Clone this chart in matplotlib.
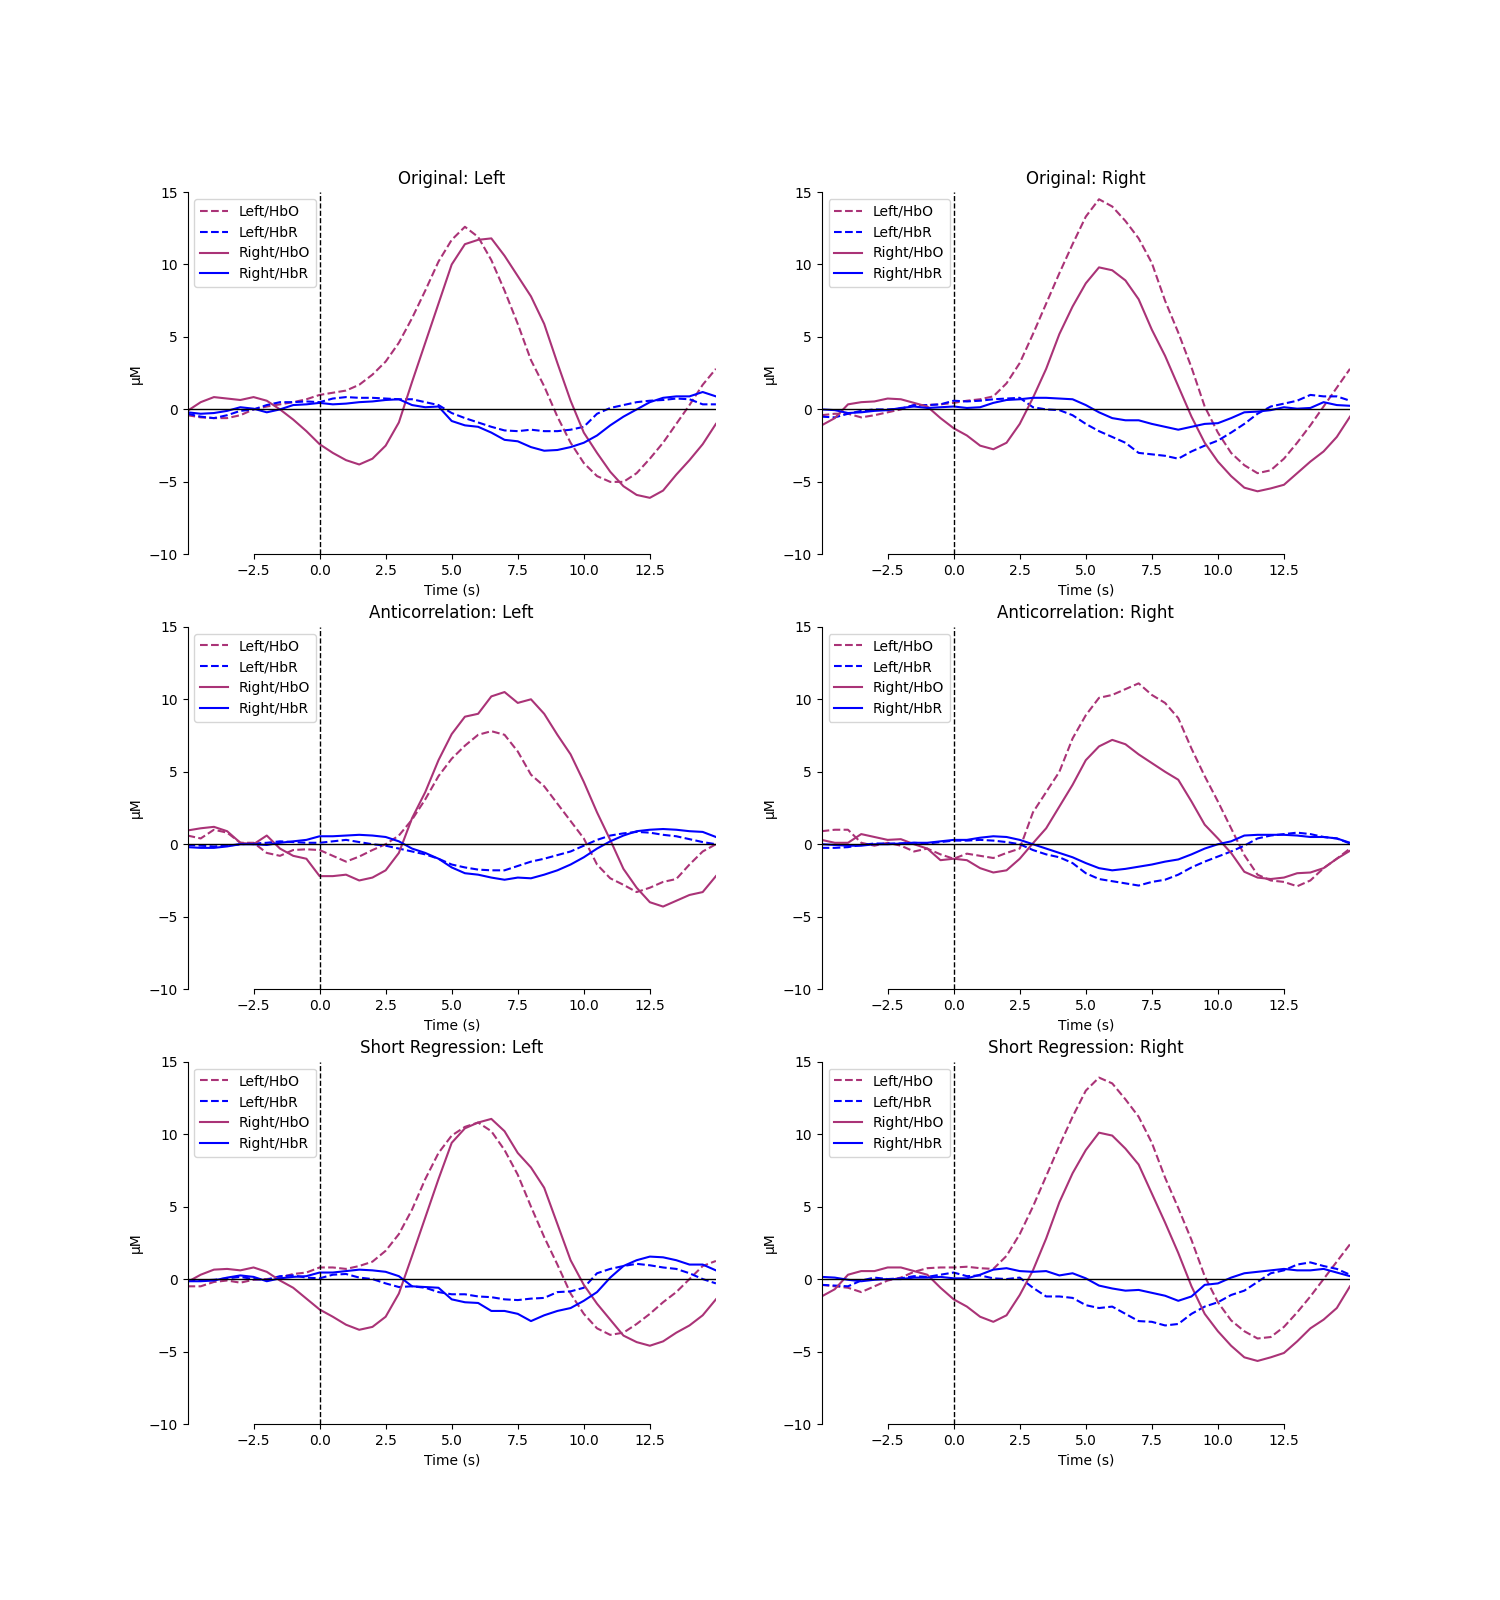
import numpy as np
import matplotlib
matplotlib.use("Agg")
import matplotlib.pyplot as plt

# time axis, seconds (-5 .. 15 in 0.5 s steps)
times = np.arange(-5, 15.01, 0.5)

HBO_COLOR = "#AA3377"
HBR_COLOR = "b"

# ---- Original ----
orig_l_left_hbo = [-0.4, -0.55, -0.6, -0.6, -0.4, 0.0, 0.2, 0.35, 0.5, 0.7,
                   1.0, 1.15, 1.3, 1.7, 2.4, 3.3, 4.6, 6.3, 8.2, 10.2,
                   11.7, 12.6, 11.9, 10.3, 8.2, 5.9, 3.4, 1.6, -0.5, -2.3,
                   -3.7, -4.6, -5.0, -5.0, -4.4, -3.4, -2.3, -1.0, 0.3, 1.7,
                   2.8]
orig_l_left_hbr = [-0.3, -0.5, -0.6, -0.4, -0.1, 0.0, 0.3, 0.5, 0.5, 0.55,
                   0.5, 0.75, 0.85, 0.8, 0.8, 0.75, 0.7, 0.7, 0.5, 0.3,
                   -0.25, -0.6, -0.9, -1.2, -1.45, -1.5, -1.4, -1.5, -1.5, -1.4,
                   -1.2, -0.3, 0.1, 0.3, 0.5, 0.6, 0.65, 0.75, 0.7, 0.35,
                   0.35]
orig_l_right_hbo = [-0.1, 0.5, 0.85, 0.75, 0.65, 0.85, 0.6, 0.0, -0.7, -1.5,
                    -2.4, -3.0, -3.5, -3.8, -3.4, -2.5, -0.9, 1.9, 4.6, 7.3,
                    10.0, 11.4, 11.7, 11.8, 10.6, 9.2, 7.8, 5.9, 3.2, 0.6,
                    -1.6, -3.0, -4.3, -5.3, -5.9, -6.1, -5.6, -4.5, -3.5, -2.4,
                    -1.0]
orig_l_right_hbr = [-0.2, -0.3, -0.25, -0.1, 0.15, 0.05, -0.2, 0.0, 0.3, 0.35,
                    0.45, 0.35, 0.4, 0.5, 0.55, 0.65, 0.7, 0.3, 0.15, 0.2,
                    -0.8, -1.1, -1.2, -1.6, -2.1, -2.2, -2.6, -2.85, -2.8, -2.6,
                    -2.3, -1.8, -1.1, -0.5, 0.0, 0.5, 0.8, 0.9, 0.9, 1.2,
                    0.9]

orig_r_left_hbo = [-0.4, -0.3, -0.3, -0.55, -0.4, -0.2, 0.0, 0.3, 0.3, 0.35,
                   0.45, 0.6, 0.7, 0.9, 1.8, 3.2, 5.2, 7.3, 9.4, 11.4,
                   13.3, 14.5, 14.0, 13.0, 11.8, 10.1, 7.5, 5.3, 2.9, 0.2,
                   -1.6, -3.0, -3.85, -4.4, -4.2, -3.4, -2.3, -1.1, 0.2, 1.5,
                   2.8]
orig_r_left_hbr = [-0.5, -0.55, -0.3, -0.1, 0.0, 0.0, 0.05, 0.3, 0.3, 0.35,
                   0.6, 0.55, 0.6, 0.7, 0.75, 0.8, 0.15, 0.0, -0.05, -0.4,
                   -1.0, -1.5, -1.9, -2.3, -3.0, -3.1, -3.2, -3.4, -2.9, -2.5,
                   -2.15, -1.6, -1.0, -0.3, 0.2, 0.4, 0.6, 1.0, 0.9, 0.9,
                   0.6]
orig_r_right_hbo = [-1.1, -0.6, 0.35, 0.5, 0.55, 0.75, 0.7, 0.45, 0.2, -0.6,
                    -1.3, -1.8, -2.5, -2.75, -2.3, -1.0, 0.8, 2.8, 5.2, 7.1,
                    8.7, 9.8, 9.6, 8.9, 7.6, 5.5, 3.7, 1.6, -0.5, -2.3,
                    -3.6, -4.6, -5.4, -5.65, -5.45, -5.2, -4.4, -3.6, -2.9, -1.9,
                    -0.5]
orig_r_right_hbr = [0.0, -0.05, -0.25, -0.2, -0.1, -0.05, 0.1, 0.2, 0.1, 0.15,
                    0.2, 0.1, 0.15, 0.45, 0.65, 0.7, 0.8, 0.8, 0.75, 0.7,
                    0.3, -0.2, -0.6, -0.75, -0.75, -1.0, -1.2, -1.4, -1.2, -1.0,
                    -0.95, -0.6, -0.2, -0.15, -0.05, 0.15, 0.05, 0.1, 0.5, 0.3,
                    0.25]

# ---- Anticorrelation ----
anti_l_left_hbo = [0.6, 0.4, 1.0, 0.8, 0.1, 0.1, -0.6, -0.8, -0.4, -0.35,
                   -0.4, -0.8, -1.2, -0.85, -0.4, 0.0, 0.6, 1.7, 3.1, 4.7,
                   5.9, 6.8, 7.55, 7.8, 7.55, 6.4, 4.8, 4.0, 2.8, 1.6,
                   0.4, -1.4, -2.35, -2.8, -3.3, -3.0, -2.6, -2.4, -1.4, -0.5,
                   0.0]
anti_l_left_hbr = [-0.05, -0.1, -0.15, -0.1, 0.0, 0.05, 0.1, 0.2, 0.15, 0.1,
                   0.1, 0.2, 0.3, 0.15, 0.0, -0.1, -0.3, -0.5, -0.7, -1.0,
                   -1.4, -1.6, -1.75, -1.8, -1.8, -1.5, -1.2, -1.0, -0.75, -0.5,
                   -0.1, 0.3, 0.6, 0.75, 0.85, 0.8, 0.65, 0.55, 0.35, 0.15,
                   0.0]
anti_l_right_hbo = [0.95, 1.1, 1.2, 0.9, 0.1, 0.0, 0.6, -0.3, -0.8, -1.0,
                    -2.2, -2.2, -2.1, -2.5, -2.3, -1.8, -0.6, 1.8, 3.6, 5.8,
                    7.6, 8.8, 9.0, 10.2, 10.5, 9.75, 10.0, 9.0, 7.55, 6.2,
                    4.3, 2.2, 0.3, -1.7, -3.0, -4.0, -4.3, -3.9, -3.5, -3.3,
                    -2.2]
anti_l_right_hbr = [-0.2, -0.25, -0.25, -0.15, 0.0, 0.0, -0.05, 0.1, 0.2, 0.3,
                    0.55, 0.55, 0.6, 0.65, 0.6, 0.5, 0.2, -0.3, -0.6, -1.0,
                    -1.6, -2.0, -2.1, -2.3, -2.45, -2.3, -2.35, -2.1, -1.8, -1.4,
                    -0.9, -0.3, 0.2, 0.6, 0.9, 1.0, 1.05, 1.0, 0.9, 0.85,
                    0.5]

anti_r_left_hbo = [0.9, 1.0, 1.0, 0.1, -0.1, 0.1, -0.1, -0.5, -0.3, -0.7,
                   -1.0, -0.65, -0.8, -0.95, -0.6, -0.3, 2.2, 3.6, 5.0, 7.3,
                   8.9, 10.1, 10.3, 10.7, 11.1, 10.3, 9.75, 8.7, 6.6, 4.7,
                   2.95, 1.1, -0.75, -2.1, -2.5, -2.6, -2.9, -2.5, -1.65, -1.0,
                   -0.3]
anti_r_left_hbr = [-0.25, -0.25, -0.2, -0.05, 0.05, 0.05, 0.05, 0.1, 0.05, 0.15,
                   0.25, 0.25, 0.3, 0.25, 0.15, 0.0, -0.4, -0.7, -0.9, -1.3,
                   -2.0, -2.4, -2.55, -2.7, -2.85, -2.6, -2.45, -2.1, -1.6, -1.2,
                   -0.85, -0.5, -0.1, 0.4, 0.6, 0.7, 0.8, 0.7, 0.5, 0.4,
                   0.05]
anti_r_right_hbo = [0.3, 0.1, 0.1, 0.7, 0.5, 0.3, 0.35, 0.0, -0.3, -1.1,
                    -1.0, -1.1, -1.65, -1.95, -1.8, -1.0, 0.07, 1.1, 2.6, 4.1,
                    5.8, 6.75, 7.2, 6.9, 6.2, 5.6, 5.0, 4.45, 2.95, 1.35,
                    0.4, -0.6, -1.9, -2.3, -2.4, -2.3, -2.0, -1.95, -1.65, -1.0,
                    -0.45]
anti_r_right_hbr = [0.0, -0.05, -0.1, -0.1, 0.0, 0.0, 0.05, 0.1, 0.1, 0.2,
                    0.3, 0.3, 0.45, 0.55, 0.5, 0.3, 0.0, -0.3, -0.6, -0.9,
                    -1.3, -1.65, -1.8, -1.7, -1.55, -1.4, -1.2, -1.05, -0.7, -0.3,
                    0.0, 0.2, 0.6, 0.65, 0.65, 0.65, 0.6, 0.5, 0.5, 0.4,
                    0.1]

# ---- Short Regression ----
short_l_left_hbo = [-0.5, -0.5, -0.2, -0.1, -0.25, -0.05, 0.0, 0.1, 0.35, 0.45,
                    0.8, 0.8, 0.7, 0.9, 1.2, 1.95, 3.1, 4.8, 6.9, 8.7,
                    9.9, 10.5, 10.8, 10.2, 8.9, 7.2, 5.0, 2.9, 1.0, -1.0,
                    -2.4, -3.4, -3.85, -3.7, -3.1, -2.4, -1.6, -0.9, 0.0, 0.9,
                    1.25]
short_l_left_hbr = [-0.1, -0.1, -0.05, 0.05, 0.15, 0.0, -0.05, 0.2, 0.25, 0.1,
                    0.05, 0.3, 0.35, 0.1, 0.0, -0.3, -0.55, -0.5, -0.6, -0.9,
                    -1.05, -1.05, -1.2, -1.25, -1.4, -1.45, -1.35, -1.3, -0.9, -0.85,
                    -0.6, 0.4, 0.7, 0.9, 1.05, 0.95, 0.8, 0.7, 0.4, 0.0,
                    -0.3]
short_l_right_hbo = [-0.2, 0.3, 0.65, 0.7, 0.6, 0.8, 0.5, -0.1, -0.6, -1.35,
                     -2.1, -2.6, -3.15, -3.5, -3.3, -2.6, -1.0, 1.6, 4.25, 6.9,
                     9.4, 10.4, 10.8, 11.05, 10.2, 8.7, 7.7, 6.3, 3.8, 1.3,
                     -0.4, -1.7, -2.8, -3.9, -4.35, -4.6, -4.3, -3.7, -3.2, -2.5,
                     -1.4]
short_l_right_hbr = [-0.15, -0.15, -0.1, 0.1, 0.25, 0.15, -0.15, 0.05, 0.15, 0.2,
                     0.45, 0.45, 0.55, 0.65, 0.6, 0.5, 0.2, -0.5, -0.55, -0.6,
                     -1.4, -1.6, -1.65, -2.2, -2.2, -2.4, -2.9, -2.5, -2.2, -2.0,
                     -1.5, -0.9, 0.1, 0.9, 1.3, 1.55, 1.5, 1.3, 1.0, 1.0,
                     0.6]

short_r_left_hbo = [-0.4, -0.5, -0.6, -0.9, -0.5, -0.1, 0.1, 0.5, 0.75, 0.8,
                    0.8, 0.85, 0.75, 0.7, 1.6, 3.1, 5.0, 7.1, 9.2, 11.2,
                    13.0, 13.9, 13.5, 12.4, 11.2, 9.4, 7.0, 4.9, 2.7, 0.2,
                    -1.6, -2.85, -3.6, -4.1, -4.0, -3.3, -2.3, -1.2, 0.0, 1.2,
                    2.4]
short_r_left_hbr = [-0.4, -0.45, -0.5, -0.1, 0.1, 0.0, 0.05, 0.2, 0.15, 0.3,
                    0.45, 0.2, 0.25, 0.05, 0.0, 0.1, -0.6, -1.2, -1.2, -1.3,
                    -1.8, -2.0, -1.9, -2.4, -2.9, -2.95, -3.2, -3.1, -2.4, -1.9,
                    -1.6, -1.1, -0.8, -0.2, 0.4, 0.6, 1.0, 1.15, 0.9, 0.7,
                    0.3]
short_r_right_hbo = [-1.2, -0.7, 0.3, 0.55, 0.55, 0.8, 0.8, 0.55, 0.3, -0.6,
                     -1.4, -1.9, -2.6, -2.95, -2.5, -1.1, 0.6, 2.8, 5.3, 7.3,
                     8.9, 10.1, 9.9, 9.0, 7.9, 5.9, 3.9, 1.8, -0.5, -2.4,
                     -3.6, -4.6, -5.4, -5.65, -5.4, -5.1, -4.3, -3.4, -2.8, -2.0,
                     -0.5]
short_r_right_hbr = [0.15, 0.1, -0.05, -0.15, -0.05, 0.0, 0.0, 0.1, 0.1, 0.15,
                     0.05, 0.05, 0.3, 0.65, 0.75, 0.55, 0.5, 0.55, 0.25, 0.4,
                     0.05, -0.45, -0.65, -0.8, -0.75, -0.95, -1.15, -1.5, -1.2, -0.4,
                     -0.3, 0.1, 0.4, 0.5, 0.6, 0.7, 0.6, 0.6, 0.7, 0.45,
                     0.2]

titles = ["Original: Left", "Original: Right",
          "Anticorrelation: Left", "Anticorrelation: Right",
          "Short Regression: Left", "Short Regression: Right"]

panels = [
    (orig_l_left_hbo, orig_l_left_hbr, orig_l_right_hbo, orig_l_right_hbr),
    (orig_r_left_hbo, orig_r_left_hbr, orig_r_right_hbo, orig_r_right_hbr),
    (anti_l_left_hbo, anti_l_left_hbr, anti_l_right_hbo, anti_l_right_hbr),
    (anti_r_left_hbo, anti_r_left_hbr, anti_r_right_hbo, anti_r_right_hbr),
    (short_l_left_hbo, short_l_left_hbr, short_l_right_hbo, short_l_right_hbr),
    (short_r_left_hbo, short_r_left_hbr, short_r_right_hbo, short_r_right_hbr),
]

fig, axes = plt.subplots(3, 2, figsize=(15, 16))

for ax, title, (lhbo, lhbr, rhbo, rhbr) in zip(axes.ravel(), titles, panels):
    ax.plot(times, lhbo, color=HBO_COLOR, ls="--", label="Left/HbO")
    ax.plot(times, lhbr, color=HBR_COLOR, ls="--", label="Left/HbR")
    ax.plot(times, rhbo, color=HBO_COLOR, ls="-", label="Right/HbO")
    ax.plot(times, rhbr, color=HBR_COLOR, ls="-", label="Right/HbR")
    ax.axhline(0, color="k", lw=1)
    ax.axvline(0, color="k", ls="--", lw=1)

    ax.set_xlim(-5, 15)
    ax.set_ylim(-10, 15)
    ax.set_xticks(np.arange(-2.5, 12.6, 2.5))
    ax.set_yticks(np.arange(-10, 16, 5))
    ax.spines["top"].set_visible(False)
    ax.spines["right"].set_visible(False)
    ax.spines["bottom"].set_bounds(-2.5, 12.5)

    ax.set_title(title)
    ax.set_xlabel("Time (s)")
    ax.set_ylabel("µM")
    ax.legend(loc="upper left")

fig.savefig("out.png", dpi=100)
